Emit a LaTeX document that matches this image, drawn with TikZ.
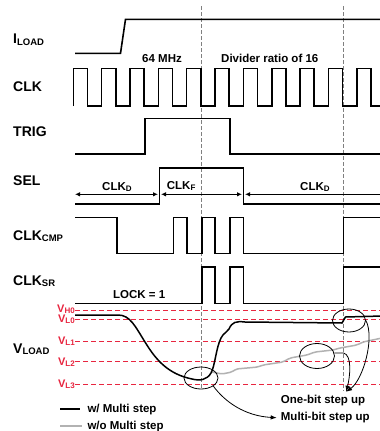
\documentclass[tikz,border=0pt]{standalone}
\usepackage{fontspec}
\setmainfont{Liberation Sans}
\usetikzlibrary{arrows.meta,shapes.geometric}
\definecolor{vred}{RGB}{232,38,64}
\definecolor{lgray}{RGB}{178,178,178}
\newcommand\lsub[1]{\raisebox{-0.12em}{\fontsize{9.5}{9.5}\selectfont #1}}
\newcommand\vsub[1]{\raisebox{-0.1em}{\fontsize{8}{8}\selectfont #1}}
\begin{document}
\begin{tikzpicture}[x=1pt,y=-1pt,
  sig/.style={line width=1.6pt},
  lbl/.style={anchor=base west, inner sep=0pt, font=\fontsize{14}{14}\selectfont\bfseries},
  txt/.style={anchor=base west, inner sep=0pt, font=\fontsize{11.5}{11.5}\selectfont\bfseries},
  vlbl/.style={anchor=base east, inner sep=0pt, text=vred, font=\fontsize{11}{11}\selectfont\bfseries},
  vline/.style={vred, line width=1pt, dash pattern=on 5pt off 3pt},
  marker/.style={gray, line width=0.9pt, dash pattern=on 3.5pt off 2.5pt},
  ring/.style={ellipse, draw, line width=0.8pt, inner sep=0pt},
  span/.style={line width=1.2pt, {Latex[length=5pt,width=4.5pt]}-{Latex[length=5pt,width=4.5pt]}},
  note/.style={line width=0.8pt, -{Latex[length=6pt,width=4.5pt]}}]
\clip (0,0) rectangle (380,431);
\fill[white] (0,0) rectangle (380,431);

% signal names
\node[lbl] (iload) at (13,43.5) {I\lsub{LOAD}};
\node[lbl] (clk) at (13,91.7) {CLK};
\node[lbl] (trig) at (13,136.7) {TRIG};
\node[lbl] (sel) at (13,185.7) {SEL};
\node[lbl] (clkcmp) at (13,240) {CLK\lsub{CMP}};
\node[lbl] (clksr) at (13,285) {CLK\lsub{SR}};
\node[lbl] (vload) at (13,353) {V\lsub{LOAD}};

% markers
\draw[marker] (201.7,6) -- (201.7,388);
\draw[marker] (343.3,6) -- (343.3,391);

% waveforms
\draw[sig] (75,53.3) -- (120.5,53.3) -- (125.5,19.3) -- (380,19.3);
\draw[sig] (73.33,106) \foreach \k in {0,...,10} { -- ++(0,-37.7) -- ++(14.17,0) -- ++(0,37.7) -- ++(14.17,0) };
\node[txt] (mhz) at (142,62) {64 MHz};
\node[txt] (ratio) at (221,62) {Divider ratio of 16};
\draw[sig] (75,154) -- (145,154) -- (145,118.3) -- (230,118.3) -- (230,154) -- (380,154);
\draw[sig] (75,204) -- (159.5,204) -- (159.5,167.7) -- (243.5,167.7) -- (243.5,204) -- (380,204);

% SEL spans
\coordinate (s0) at (75,194.3);
\coordinate (s1) at (159.5,194.3);
\coordinate (s2) at (243.5,194.3);
\coordinate (s3) at (388,194.3);
\draw[span] (s0) -- ([xshift=-1.5pt]s1);
\draw[span] ([xshift=1.5pt]s1) -- ([xshift=-1.5pt]s2);
\draw[span] ([xshift=1.5pt]s2) -- (s3);
\node[txt] (clkd1) at (102,190) {CLK\vsub{D}};
\node[txt] (clkf) at (166.7,189.5) {CLK\vsub{F}};
\node[txt] (clkd2) at (300,190) {CLK\vsub{D}};

\draw[sig] (75,217.3) -- (116.7,217.3) -- (116.7,253.3) -- (173.3,253.3) -- (173.3,217.3)
  -- (186.7,217.3) -- (186.7,253.3) -- (201.7,253.3) -- (201.7,217.3) -- (215,217.3)
  -- (215,253.3) -- (230,253.3) -- (230,217.3) -- (243.3,217.3) -- (243.3,253.3)
  -- (343.3,253.3) -- (343.3,217.3) -- (380,217.3);
\draw[sig] (75,303.3) -- (201.7,303.3) -- (201.7,266.7) -- (215,266.7) -- (215,303.3)
  -- (230,303.3) -- (230,266.7) -- (243.3,266.7) -- (243.3,303.3) -- (343.3,303.3)
  -- (343.3,266.7) -- (380,266.7);
\node[txt] (lock) at (113,298.3) {LOCK = 1};

% load voltage levels
\foreach \y in {310.7,319.3,341,361.7,384.3}
  \draw[vline] (75,\y) -- (380,\y);
\node[vlbl] (vh0) at (75,312.5) {V\vsub{H0}};
\node[vlbl] (vl0) at (75,322) {V\vsub{L0}};
\node[vlbl] (vl1) at (75,344) {V\vsub{L1}};
\node[vlbl] (vl2) at (75,365) {V\vsub{L2}};
\node[vlbl] (vl3) at (75,387) {V\vsub{L3}};

\draw[lgray, line width=1.5pt, rounded corners=2pt] (212,372) -- (222,374) -- (232,372) -- (236,369)
  -- (258,367) -- (263,365) -- (283,362) -- (290,358) -- (307,355) -- (315,352) -- (333,350)
  -- (340,348) -- (357,345) -- (363,342) -- (382,338);
\draw[sig, line width=1.5pt] (75,315) -- (118,315) .. controls (130,315) and (135,326) .. (145,342)
  .. controls (156,360) and (168,374) .. (192,379)
  .. controls (200,381) and (207,380) .. (211,373)
  .. controls (215,366) and (216,348) .. (221,338)
  .. controls (224,332) and (227,333) .. (229,329)
  .. controls (232,322) and (236,321) .. (245,322)
  -- (342,323) -- (345.5,317) -- (382,316);

% annotations
\node[ring, minimum width=34pt, minimum height=22pt] (e1) at (201,378) {};
\node[ring, minimum width=33pt, minimum height=23pt] (e2) at (349,320.5) {};
\node[ring, minimum width=35pt, minimum height=25pt] (e3) at (317,356) {};
\node[txt] (onebit) at (280.7,403.3) {One-bit step up};
\node[txt] (multibit) at (280.7,420.7) {Multi-bit step up};
\draw[note] (e2.east) .. controls (375,338) and (363,380) .. ([shift={(23pt,3pt)}]onebit.north);
\draw[note] (e3.10) -- ++(9,0) .. controls +(9,2) and +(4,-15) .. ([shift={(23pt,3pt)}]onebit.north);
\draw[note] (e1.south east) .. controls (225,402) and (245,416) .. ([xshift=-4pt]multibit.west);

% legend
\node[txt] (wmulti) at (87.3,412.7) {w/ Multi step};
\node[txt] (womulti) at (87.3,429.3) {w/o Multi step};
\draw[sig] (60,409) -- (80,409);
\draw[lgray, line width=1.6pt] (60,425.7) -- (82,425.7);
\end{tikzpicture}
\end{document}
